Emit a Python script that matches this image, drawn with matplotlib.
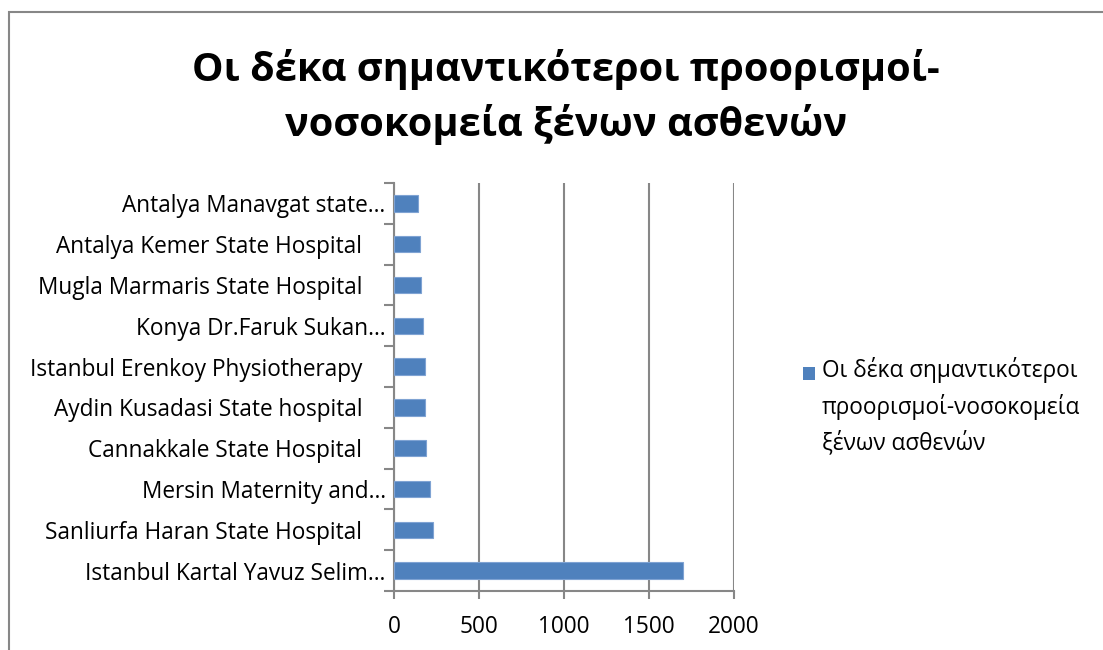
import matplotlib
matplotlib.use("Agg")
import matplotlib.pyplot as plt
from matplotlib.patches import Rectangle

plt.rcParams['font.family'] = ['Open Sans', 'DejaVu Sans']

categories = [
    "Istanbul Kartal Yavuz Selim…",
    "Sanliurfa Haran State Hospital    ",
    "Mersin Maternity and…",
    "Cannakkale State Hospital    ",
    "Aydin Kusadasi State hospital    ",
    "Istanbul Erenkoy Physiotherapy    ",
    "Konya Dr.Faruk Sukan…",
    "Mugla Marmaris State Hospital    ",
    "Antalya Kemer State Hospital    ",
    "Antalya Manavgat state…",
]
values = [1700, 230, 210, 190, 180, 180, 170, 160, 150, 140]
xticks = [0, 500, 1000, 1500, 2000]
title = "Οι δέκα σημαντικότεροι προορισμοί-\nνοσοκομεία ξένων ασθενών"
legend_label = "Οι δέκα σημαντικότεροι\nπροορισμοί-νοσοκομεία\nξένων ασθενών"

W, H = 1103, 650
fig = plt.figure(figsize=(W / 100, H / 100), dpi=100)
fig.patch.set_facecolor('white')

def fx(px):
    return px / W

def fy(py):
    return 1 - py / H

grey = '#878787'
fs = 16.3

# outer chart frame (cropped on right/bottom)
fig.patches.append(Rectangle((fx(9), fy(700)), fx(1200), fy(12) - fy(700),
                             transform=fig.transFigure, fill=False,
                             edgecolor=grey, linewidth=1.5, clip_on=False))

ax = fig.add_axes([fx(394), fy(591), fx(734) - fx(394), fy(183) - fy(591)])
bar_color = '#4F81BD'
ax.barh(range(len(categories)), values, height=0.4, color=bar_color,
        edgecolor='#7fa3d3', linewidth=0.8, zorder=3)
ax.set_ylim(-0.5, len(categories) - 0.5)
ax.set_xlim(0, 2000)
ax.set_xticks(xticks)
ax.set_xticklabels([str(v) for v in xticks], fontsize=fs)
ax.set_yticks(range(len(categories)))
ax.set_yticklabels(categories, fontsize=fs)
ax.tick_params(axis='y', length=0, pad=6)
# category boundary ticks
ax.set_yticks([i - 0.5 for i in range(len(categories) + 1)], minor=True)
ax.tick_params(axis='y', which='minor', length=7, width=1.5, color=grey, direction='out')
ax.tick_params(axis='x', length=6, width=1.5, color=grey, direction='out', pad=11)
ax.grid(axis='x', color=grey, linewidth=1.5, zorder=0)
for s in ['top', 'right']:
    ax.spines[s].set_visible(False)
for s in ['left', 'bottom']:
    ax.spines[s].set_color(grey)
    ax.spines[s].set_linewidth(1.5)

fig.text(fx(566), fy(97), title, ha='center', va='center', fontsize=28.6,
         fontweight='bold', linespacing=1.42)

# legend
fig.patches.append(Rectangle((fx(803), fy(380)), fx(12), fy(367) - fy(380),
                             transform=fig.transFigure, facecolor=bar_color,
                             edgecolor='none'))
fig.text(fx(822), fy(357), legend_label, ha='left', va='top', fontsize=fs,
         linespacing=1.56)

fig.savefig('out.png', dpi=100)
